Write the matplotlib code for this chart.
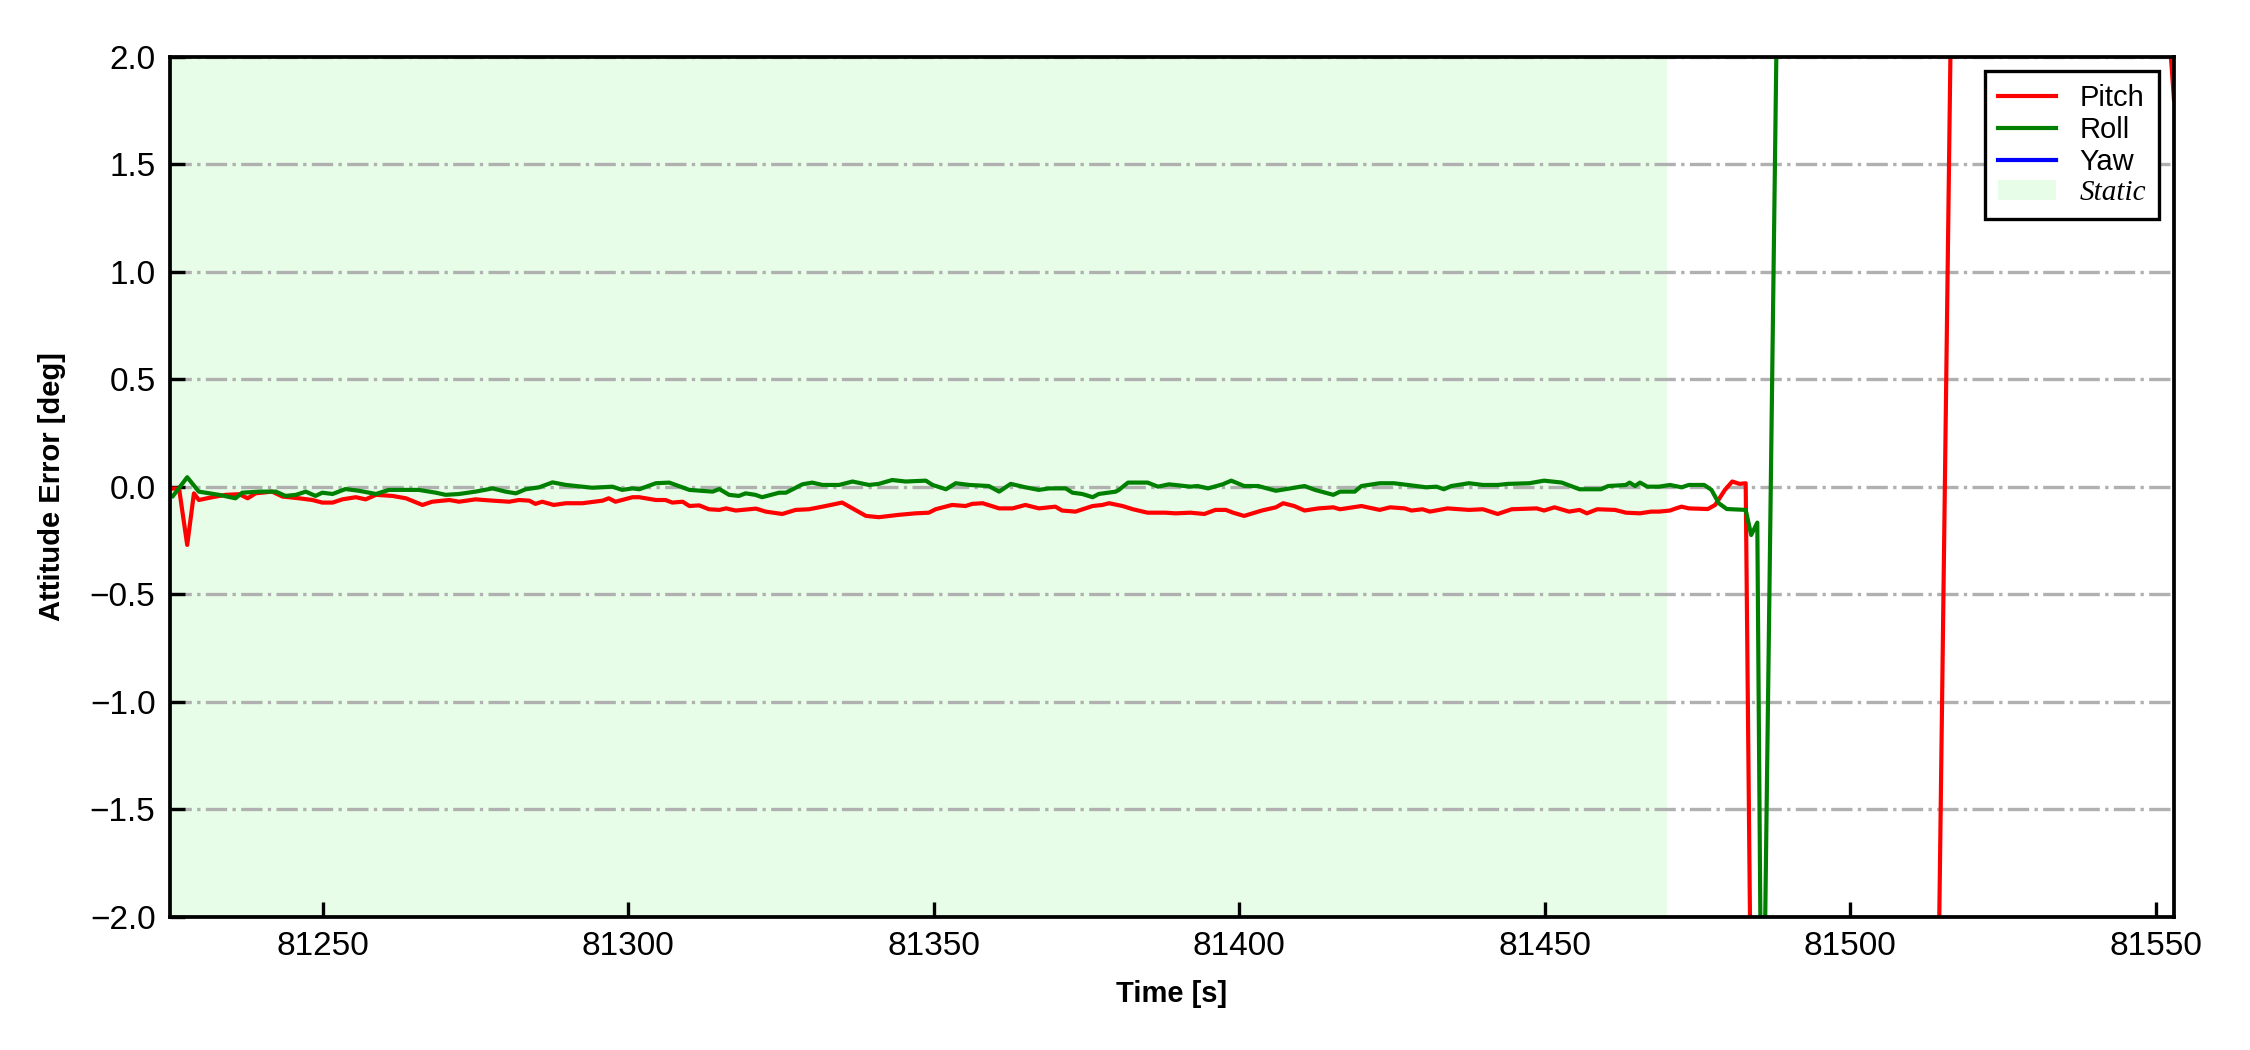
import numpy as np
import matplotlib
matplotlib.use('Agg')
import matplotlib.pyplot as plt

plt.rcParams['font.family'] = ['Liberation Sans', 'DejaVu Sans']

# Pitch error [deg] vs time [s]
pitch_t = [81225.0, 81225.9, 81226.5, 81227.8, 81228.9, 81229.7, 81231.9, 81234.1, 81236.3, 81237.7,
           81239.0, 81241.7, 81243.4, 81246.1, 81248.3, 81249.9, 81251.6, 81253.2, 81255.4, 81257.0,
           81258.7, 81261.4, 81263.6, 81266.3, 81267.9, 81270.7, 81272.3, 81275.0, 81277.8, 81280.5,
           81282.1, 81283.8, 81284.8, 81285.9, 81287.8, 81289.8, 81292.5, 81295.8, 81296.8, 81297.9,
           81300.7, 81301.8, 81304.5, 81306.1, 81307.2, 81308.9, 81310.0, 81311.6, 81313.2, 81314.9,
           81316.0, 81317.6, 81319.8, 81320.9, 81322.5, 81325.2, 81327.4, 81329.6, 81332.3, 81335.0,
           81336.7, 81338.9, 81341.0, 81344.3, 81347.0, 81349.2, 81350.3, 81353.0, 81355.2, 81356.3,
           81358.0, 81360.7, 81362.9, 81365.0, 81367.2, 81369.9, 81371.0, 81373.2, 81376.0, 81377.6,
           81378.7, 81380.9, 81382.6, 81385.0, 81387.9, 81389.6, 81392.0, 81394.3, 81396.1, 81397.8,
           81399.0, 81400.8, 81403.7, 81406.0, 81407.2, 81409.0, 81410.7, 81413.0, 81415.4, 81416.5,
           81420.0, 81423.0, 81424.7, 81427.1, 81428.2, 81430.0, 81431.2, 81434.1, 81437.6, 81439.9,
           81442.3, 81444.6, 81448.7, 81449.9, 81451.6, 81454.0, 81455.7, 81456.9, 81458.6, 81461.5,
           81463.3, 81465.6, 81467.4, 81468.7, 81470.5, 81471.5, 81472.4, 81473.6, 81476.7, 81477.9,
           81479.5, 81480.7, 81481.9, 81482.9, 81484.0, 81500.0, 81514.0, 81517.0, 81535.0, 81552.0,
           81553.0]
pitch = [-0.010, -0.008, -0.015, -0.271, -0.031, -0.062, -0.049, -0.038, -0.035, -0.054,
         -0.031, -0.023, -0.046, -0.054, -0.062, -0.074, -0.074, -0.059, -0.049, -0.059,
         -0.038, -0.043, -0.054, -0.085, -0.070, -0.062, -0.070, -0.059, -0.065, -0.070,
         -0.062, -0.065, -0.080, -0.070, -0.085, -0.077, -0.077, -0.065, -0.054, -0.070,
         -0.049, -0.049, -0.062, -0.062, -0.074, -0.070, -0.090, -0.087, -0.105, -0.108,
         -0.101, -0.111, -0.105, -0.102, -0.116, -0.127, -0.108, -0.105, -0.090, -0.074,
         -0.101, -0.136, -0.142, -0.131, -0.124, -0.121, -0.105, -0.085, -0.090, -0.080,
         -0.077, -0.101, -0.101, -0.085, -0.101, -0.093, -0.111, -0.116, -0.090, -0.085,
         -0.077, -0.090, -0.105, -0.121, -0.121, -0.124, -0.121, -0.127, -0.108, -0.108,
         -0.121, -0.136, -0.111, -0.096, -0.077, -0.090, -0.111, -0.101, -0.096, -0.105,
         -0.090, -0.108, -0.096, -0.101, -0.111, -0.105, -0.116, -0.101, -0.108, -0.105,
         -0.127, -0.105, -0.101, -0.111, -0.096, -0.116, -0.108, -0.124, -0.105, -0.108,
         -0.121, -0.124, -0.116, -0.116, -0.111, -0.101, -0.093, -0.101, -0.104, -0.085,
         -0.015, 0.024, 0.013, 0.016, -3.15, -6.0, -3.3, 3.3, 6.0, 2.2,
         1.8]

# Roll error [deg]
roll_t = [81225.0, 81225.4, 81227.8, 81229.7, 81233.0, 81235.7, 81236.8, 81239.6, 81242.3, 81243.9,
          81245.6, 81247.2, 81248.8, 81249.9, 81251.6, 81253.7, 81255.9, 81258.7, 81260.8, 81265.7,
          81268.5, 81270.1, 81272.3, 81275.0, 81277.8, 81279.9, 81281.6, 81283.2, 81285.4, 81287.6,
          81289.8, 81291.4, 81294.1, 81297.4, 81299.0, 81300.7, 81301.8, 81304.5, 81306.7, 81310.0,
          81313.8, 81314.9, 81316.5, 81318.1, 81319.2, 81320.8, 81321.9, 81324.7, 81325.8, 81328.5,
          81330.1, 81331.8, 81334.5, 81336.7, 81339.4, 81341.0, 81343.2, 81345.4, 81348.7, 81349.8,
          81352.0, 81353.6, 81355.8, 81359.0, 81360.7, 81362.6, 81365.0, 81367.2, 81368.9, 81371.6,
          81372.7, 81374.3, 81376.0, 81377.0, 81379.8, 81380.3, 81381.8, 81385.0, 81386.7, 81388.5,
          81392.0, 81393.2, 81394.9, 81397.3, 81398.7, 81400.8, 81403.1, 81406.0, 81408.4, 81410.7,
          81412.4, 81415.4, 81416.5, 81418.9, 81420.0, 81423.0, 81425.3, 81427.6, 81430.6, 81432.3,
          81433.5, 81434.7, 81437.6, 81439.9, 81442.3, 81444.0, 81447.5, 81449.9, 81452.8, 81455.7,
          81459.2, 81460.4, 81463.3, 81463.9, 81464.8, 81465.6, 81466.8, 81468.7, 81470.5, 81472.4,
          81473.6, 81476.1, 81477.3, 81478.5, 81479.8, 81482.9, 81483.8, 81484.8, 81485.6, 81488.3,
          81520.0, 81553.0]
roll = [-0.040, -0.046, 0.044, -0.023, -0.038, -0.054, -0.028, -0.023, -0.023, -0.043,
        -0.038, -0.023, -0.043, -0.028, -0.034, -0.011, -0.019, -0.034, -0.015, -0.015,
        -0.028, -0.038, -0.034, -0.023, -0.008, -0.023, -0.031, -0.012, -0.003, 0.020,
        0.008, 0.003, -0.005, 0.000, -0.015, -0.008, -0.012, 0.016, 0.019, -0.015,
        -0.023, -0.011, -0.038, -0.043, -0.031, -0.038, -0.049, -0.028, -0.028, 0.011,
        0.019, 0.008, 0.008, 0.024, 0.008, 0.013, 0.031, 0.024, 0.028, 0.008,
        -0.012, 0.016, 0.008, 0.003, -0.023, 0.013, -0.003, -0.015, -0.008, -0.008,
        -0.028, -0.034, -0.049, -0.034, -0.023, -0.015, 0.019, 0.019, 0.000, 0.011,
        0.000, 0.003, -0.008, 0.011, 0.028, 0.003, 0.003, -0.019, -0.008, 0.003,
        -0.015, -0.038, -0.023, -0.023, 0.003, 0.016, 0.016, 0.008, -0.003, 0.000,
        -0.012, 0.003, 0.016, 0.008, 0.008, 0.013, 0.016, 0.028, 0.019, -0.012,
        -0.012, 0.003, 0.008, 0.019, 0.003, 0.019, 0.000, 0.000, 0.008, -0.003,
        0.008, 0.008, -0.015, -0.077, -0.104, -0.108, -0.225, -0.167, -3.1, 2.85,
        6.0, 5.0]

# Yaw error stays outside the plotted range
yaw_t = [81225.0, 81553.0]
yaw = [4.5, 4.5]

static_span = (81225.0, 81470.0)

fig, ax = plt.subplots(figsize=(7.5, 3.5), dpi=300)
fig.subplots_adjust(left=0.0756, right=0.9662, bottom=0.127, top=0.946)

ax.axvspan(static_span[0], static_span[1], color='#e8fde8', lw=0, label='Static')
ax.plot(pitch_t, pitch, color='red', lw=1.0, label='Pitch')
ax.plot(roll_t, roll, color='green', lw=1.0, label='Roll')
ax.plot(yaw_t, yaw, color='blue', lw=1.0, label='Yaw')

ax.set_xlim(81225.0, 81553.0)
ax.set_ylim(-2, 2)
ax.set_xticks([81250, 81300, 81350, 81400, 81450, 81500, 81550])
ax.set_yticks(np.arange(-2, 2.01, 0.5))
ax.yaxis.grid(True, linestyle='-.', color='#b0b0b0', lw=0.8)

ax.tick_params(direction='in', length=3.5, width=0.8, labelsize=8, top=False, right=False)
for s in ax.spines.values():
    s.set_linewidth(0.9)

ax.set_xlabel('Time [s]', fontsize=7, fontweight='bold')
ax.set_ylabel('Attitude Error [deg]', fontsize=7, fontweight='bold')
ax.xaxis.set_label_coords(0.5, -0.074)
ax.yaxis.set_label_coords(-0.052, 0.5)

h, l = ax.get_legend_handles_labels()
order = [1, 2, 3, 0]
leg = ax.legend([h[i] for i in order], [l[i] for i in order], loc='upper right', fontsize=7,
                fancybox=False, framealpha=1, edgecolor='black', labelspacing=0.13,
                borderpad=0.45)
leg.get_frame().set_linewidth(0.8)
st = leg.get_texts()[3]
st.set_fontfamily(['Liberation Serif'])
st.set_fontstyle('italic')

plt.savefig('out.png', dpi=300)
